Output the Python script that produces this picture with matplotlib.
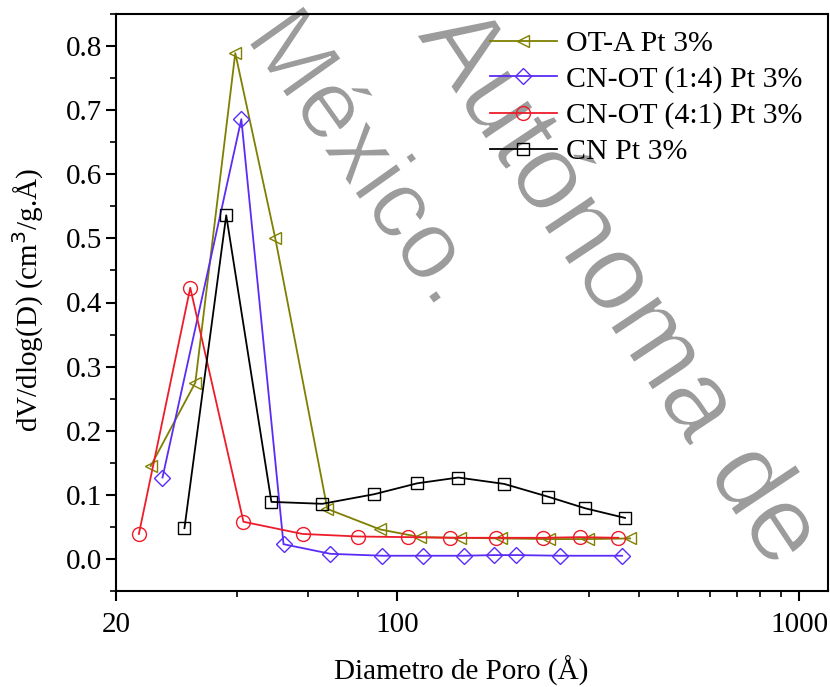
import matplotlib
matplotlib.use("Agg")
import matplotlib.pyplot as plt
import matplotlib.patheffects as pe
from matplotlib.ticker import FixedLocator, NullFormatter, MultipleLocator, FormatStrFormatter

plt.rcParams['font.family'] = ['Liberation Serif', 'DejaVu Serif']

# ---- data ----
ota_x = [24.4, 31.5, 39.6, 49.8, 67.1, 90.8, 114.3, 143.6, 181.5, 239, 299, 380]
ota_y = [0.145, 0.275, 0.789, 0.500, 0.078, 0.046, 0.034, 0.033, 0.032, 0.031, 0.031, 0.032]

cn14_x = [26.1, 41.0, 52.2, 68.3, 91.9, 116.2, 147, 174.5, 198, 254.6, 363]
cn14_y = [0.127, 0.686, 0.023, 0.008, 0.005, 0.005, 0.005, 0.006, 0.006, 0.005, 0.005]

cn41_x = [22.8, 30.6, 41.5, 58.2, 80.1, 106.7, 135.7, 176.5, 231, 285.5, 355]
cn41_y = [0.039, 0.423, 0.058, 0.039, 0.035, 0.034, 0.033, 0.033, 0.033, 0.034, 0.033]

cn_x = [29.6, 37.6, 48.7, 65.2, 87.8, 112.3, 142, 184.8, 237.7, 293.8, 369]
cn_y = [0.048, 0.536, 0.089, 0.086, 0.101, 0.118, 0.127, 0.117, 0.097, 0.079, 0.064]

labels = ["OT-A Pt 3%", "CN-OT (1:4) Pt 3%", "CN-OT (4:1) Pt 3%", "CN Pt 3%"]
colors = ["#7f7f00", "#5a2cf5", "#ee1c2a", "#000000"]
markers = ["<", "D", "o", "s"]
msizes = [9, 8, 10, 9]

xticks_major = [20, 100, 1000]
xtick_labels = ["20", "100", "1000"]
xticks_minor = [40, 60, 80, 200, 300, 400, 500, 600, 700, 800, 900]

watermark_texts = ["México.", "Autónoma de"]

fig = plt.figure(figsize=(8.3, 6.87), dpi=100)
fig.patch.set_facecolor('white')
ax = fig.add_axes([116/830, 1-591/687, 712/830, 577/687])
ax.set_facecolor('none')

series = [(ota_x, ota_y), (cn14_x, cn14_y), (cn41_x, cn41_y), (cn_x, cn_y)]
for (xs, ys), lab, c, m, ms in zip(series, labels, colors, markers, msizes):
    ax.plot(xs, ys, color=c, marker=m, markersize=ms, markerfacecolor='none',
            markeredgewidth=1.0, linewidth=1.3, label=lab, zorder=3)

ax.set_xscale('log')
ax.set_xlim(20, 1180)
ax.set_ylim(-0.05, 0.85)

ax.xaxis.set_major_locator(FixedLocator(xticks_major))
ax.set_xticklabels(xtick_labels)
ax.xaxis.set_minor_locator(FixedLocator(xticks_minor))
ax.xaxis.set_minor_formatter(NullFormatter())
ax.yaxis.set_major_locator(MultipleLocator(0.1))
ax.yaxis.set_minor_locator(MultipleLocator(0.05))
ax.yaxis.set_major_formatter(FormatStrFormatter('%.1f'))

for s in ax.spines.values():
    s.set_linewidth(1.5)
ax.tick_params(which='major', direction='out', length=7, width=1.5, labelsize=21, pad=3)
ax.tick_params(which='minor', direction='out', length=4, width=1.2)
ax.tick_params(axis='x', which='major', pad=8)

ax.set_xlabel("Diametro de Poro (Å)", fontsize=21)
ax.set_ylabel("dV/dlog(D) (cm$^{3}$/g.Å)", fontsize=21)
ax.xaxis.set_label_coords(0.485, -0.112)
ax.yaxis.set_label_coords(-0.098, 0.505)

leg = ax.legend(loc='upper left', bbox_to_anchor=(0.525, 0.972), frameon=False,
                fontsize=21.5, handlelength=2.25, handletextpad=0.3, labelspacing=0.3,
                borderpad=0, borderaxespad=0, numpoints=1)

# watermark (drawn beneath the transparent axes)
wm = dict(color='#9c9c9c', family='Liberation Sans', ha='center', va='center',
          rotation_mode='anchor', zorder=-1,
          path_effects=[pe.Stroke(linewidth=1.2, foreground='white')])
fig.text(362/830, 1-160/687, watermark_texts[0], fontsize=70, rotation=-54.6, **wm)
fig.text(618/830, 1-288/687, watermark_texts[1], fontsize=78, rotation=-56.4, **wm)

fig.savefig("out.png", dpi=100, facecolor='white')
